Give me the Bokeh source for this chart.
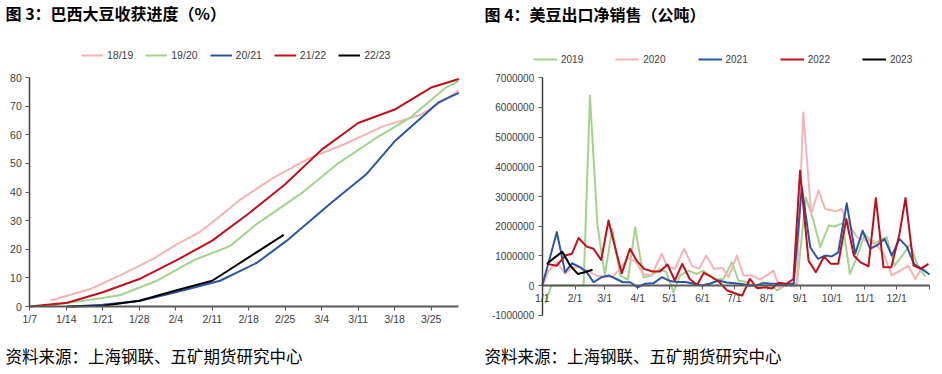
from bokeh.plotting import figure
from bokeh.models import Range1d, FixedTicker, Legend, LegendItem, Label
from bokeh.layouts import row
from bokeh.embed import file_html
from bokeh.resources import INLINE

# ---------------- Left chart: Brazil soybean harvest progress (%) ----------------
# x = days after 1/7
harvest_tick_days = [0, 7, 14, 21, 28, 35, 42, 49, 56, 63, 70, 77]
harvest_tick_labels = ["1/7", "1/14", "1/21", "1/28", "2/4", "2/11", "2/18",
                       "2/25", "3/4", "3/11", "3/18", "3/25"]
harvest_y_ticks = [0, 10, 20, 30, 40, 50, 60, 70, 80]

hv_days_1819 = [4, 11.6, 18, 24, 28, 32.6, 36.6, 40.4, 46.8, 53.5, 60.2, 67.9, 75, 79.3, 82.3]
hv_prog_1819 = [2.1, 6.1, 11.5, 17, 21.5, 26, 31.7, 37.4, 45, 51.7, 56.6, 63, 67, 71.9, 75.4]

hv_days_1920 = [4, 7, 14, 17.4, 24.4, 31.5, 38.5, 43.5, 52.3, 59.3, 66.3, 73, 79.7, 82.3]
hv_prog_1920 = [0.3, 1.2, 3, 4, 9, 16.2, 21.2, 28.8, 39.8, 50.2, 58.7, 66, 76.3, 78.8]

hv_days_2021 = [8, 14, 21, 28, 36.5, 43.5, 49.3, 57.5, 64.5, 70, 78.5, 82.3]
hv_prog_2021 = [0, 0.6, 1.9, 5, 9, 15.2, 23, 35.7, 46.1, 57.7, 71.4, 74.6]

hv_days_2122 = [0, 7.2, 14, 21, 28, 35, 42, 49, 56, 63, 70, 77, 82.3]
hv_prog_2122 = [0, 1.3, 5, 9.6, 16, 23, 32.5, 42.7, 54.8, 64.1, 68.8, 76.5, 79.5]

hv_days_2223 = [7, 14, 21, 28, 35, 48.7]
hv_prog_2223 = [0, 0.3, 2, 5.6, 9, 25]

harvest_names = ["18/19", "19/20", "20/21", "21/22", "22/23"]

# ---------------- Right chart: US soybean net export sales (t) ----------------
sales_tick_days = [0, 31, 59, 90, 120, 151, 181, 212, 243, 273, 304, 334, 365]
sales_tick_labels = ["1/1", "2/1", "3/1", "4/1", "5/1", "6/1", "7/1", "8/1",
                     "9/1", "10/1", "11/1", "12/1", ""]
sales_y_ticks = [-1000000, 0, 1000000, 2000000, 3000000, 4000000, 5000000, 6000000, 7000000]
sales_y_labels = ["-1000000", "0", "1000000", "2000000", "3000000", "4000000",
                  "5000000", "6000000", "7000000"]

days_2019 = [2.8, 8.8, 16, 24, 31, 39, 45, 52, 59, 66,
             73.5, 80.7, 87.6, 95.5, 103, 111, 117, 123.7, 130, 138,
             145.7, 152, 160, 166, 171, 178.7, 185, 193, 201, 207,
             214, 221.6, 228, 234, 240, 248.4, 255.7, 262, 270, 276,
             283, 290, 296.5, 304, 312, 318, 324.7, 332, 340.5, 347,
             353, 361]
sales_2019 = [-600000, 0, 0, 0, 0, 0, 6400000, 2080000, 340000, 1920000,
              340000, 200000, 1960000, 280000, 340000, 560000, 450000, -220000, 340000, 500000,
              390000, 500000, 280000, 200000, 230000, 780000, 170000, 110000, -60000, 110000,
              50000, -170000, 0, 0, 0, 2970000, 2190000, 1290000, 2020000, 1990000,
              2100000, 390000, 950000, 1740000, 1400000, 1520000, 1630000, 670000, 1070000, 1400000,
              730000, 300000]

days_2020 = [1, 6, 14, 21.6, 28, 35.5, 43, 51, 58.6, 66,
             73.5, 81, 88, 95.5, 103, 112.7, 117.4, 125, 133.8, 141,
             148, 154.6, 162, 169.8, 175.6, 183.4, 189.7, 197.6, 205.4, 212,
             218, 224, 232, 240, 246, 253.5, 260.4, 266.7, 276, 282,
             288.7, 296.5, 304, 312, 321.7, 329.5, 337.4, 345, 351.6, 359.4]
sales_2020 = [50000, 500000, 780000, 390000, 620000, 620000, 500000, 340000, 300000, 280000,
              560000, 950000, 800000, 390000, 340000, 1070000, 670000, 560000, 1240000, 670000,
              560000, 1010000, 560000, 600000, 280000, 1010000, 340000, 340000, 200000, 350000,
              500000, -110000, 60000, 60000, 5830000, 2410000, 3200000, 2580000, 2500000, 2580000,
              2080000, 1630000, 1520000, 1500000, 1070000, 340000, 500000, 670000, 220000, 670000]

days_2021 = [0, 7, 13.8, 21.6, 28, 35.5, 42, 48.4, 56, 62.5,
             70, 76, 83, 90, 97, 105, 112.7, 120.5, 127, 135,
             143, 150, 158, 166, 174, 181, 188, 195, 202, 209,
             216, 223, 230, 237, 244.7, 252.6, 259.8, 266.7, 273, 279,
             287, 295, 302, 309, 315.4, 322.6, 329.5, 336.7, 343.6, 350.6,
             357.8, 365]
sales_2021 = [0, 900000, 1800000, 450000, 750000, 620000, 450000, 110000, 280000, 340000,
              220000, 110000, 110000, -60000, 60000, 80000, 280000, 150000, 120000, 120000,
              60000, 0, 60000, 170000, 100000, 80000, 50000, 0, 10000, 80000,
              60000, 60000, 60000, 60000, 3310000, 1290000, 900000, 1010000, 980000, 1120000,
              2770000, 1070000, 1850000, 1240000, 1350000, 1570000, 1010000, 1570000, 1310000, 710000,
              560000, 370000]

days_2022 = [4.4, 13.8, 21.6, 28, 34.2, 42, 48.4, 55.6, 62.5, 69,
             75, 82.7, 89, 96, 104, 111, 118, 125, 132, 139,
             146, 152.3, 160, 167, 174.4, 181, 188.5, 195.7, 202.6, 210,
             216.5, 223, 230, 236.8, 243, 251, 257.9, 265.7, 272, 279,
             286.5, 293.7, 300, 307.5, 314.4, 321.6, 329, 336.7, 342.4, 350,
             357, 364]
sales_2022 = [730000, 670000, 1010000, 1070000, 1600000, 1310000, 1240000, 860000, 2190000, 1240000,
              410000, 1240000, 840000, 560000, 470000, 470000, 710000, 170000, 730000, 220000,
              20000, 430000, 280000, 110000, -170000, -250000, -340000, 220000, -90000, -60000,
              -100000, 90000, 50000, 220000, 3870000, 840000, 450000, 980000, 730000, 730000,
              2240000, 1010000, 780000, 650000, 2950000, 620000, 620000, 1740000, 2950000, 670000,
              560000, 730000]

days_2023 = [4.4, 12, 19, 26.4, 33.5, 40, 47.4]
sales_2023 = [730000, 950000, 1140000, 670000, 390000, 450000, 530000]

sales_names = ["2019", "2020", "2021", "2022", "2023"]

PINK = "#F4B4B6"
GREEN = "#A3D38A"
BLUE = "#2B55A5"
RED = "#C00F1C"
BLACK = "#000000"

CJK = "Noto Sans CJK SC"
LAT = "Liberation Sans"
TXT = "#404040"

H = 374


def make_fig(w, xr, yr):
    p = figure(width=w, height=H, title=None, x_range=Range1d(*xr), y_range=Range1d(*yr),
               min_border_left=0, min_border_right=0, min_border_top=0, min_border_bottom=0,
               output_backend="svg", toolbar_location=None)
    p.grid.visible = False
    p.outline_line_color = None
    for ax in (p.xaxis[0], p.yaxis[0]):
        ax.fixed_location = 0
        ax.major_label_text_font = LAT
        ax.major_label_text_color = TXT
        ax.minor_tick_line_color = None
        ax.major_tick_in = 0
        ax.major_tick_out = 4
        ax.major_tick_line_color = "#595959"
    p.yaxis[0].axis_line_color = "#404040"
    p.yaxis[0].axis_line_width = 1.5
    p.xaxis[0].axis_line_color = "#595959"
    p.xaxis[0].axis_line_width = 2
    return p


# ---------------- Left figure ----------------
# frame spans whole figure; axes drawn at data 0 with bounds
p1 = make_fig(470, (-5.621, 84.546), (-23.755, 106.90))
p1.xaxis.bounds = (0, 82.3)
p1.yaxis.bounds = (0, 80)
p1.xaxis.ticker = FixedTicker(ticks=harvest_tick_days)
p1.xaxis.major_label_overrides = {d: l for d, l in zip(harvest_tick_days, harvest_tick_labels)}
p1.yaxis.ticker = FixedTicker(ticks=harvest_y_ticks)
p1.xaxis.major_label_text_font_size = "10.5px"
p1.yaxis.major_label_text_font_size = "10.5px"
p1.xaxis.major_label_standoff = 2
p1.yaxis.major_label_standoff = 4

h_series = [(hv_days_1819, hv_prog_1819, PINK), (hv_days_1920, hv_prog_1920, GREEN),
            (hv_days_2021, hv_prog_2021, BLUE), (hv_days_2122, hv_prog_2122, RED),
            (hv_days_2223, hv_prog_2223, BLACK)]
h_items = []
for name, (xs, ys, c) in zip(harvest_names, h_series):
    r = p1.line(xs, ys, line_color=c, line_width=2, line_join="round")
    h_items.append(LegendItem(label=name, renderers=[r]))

leg1 = Legend(items=h_items, orientation="horizontal", location=(81, 311),
              label_text_font=LAT, label_text_font_size="10.5px", label_text_color=TXT,
              glyph_width=22, glyph_height=16, label_standoff=4, spacing=12,
              padding=2, margin=0, border_line_color=None, background_fill_alpha=0)
p1.add_layout(leg1)

p1.add_layout(Label(x=-4.662, y=102.36, text="图 3：巴西大豆收获进度（%）",
                    text_font=CJK, text_font_style="bold", text_font_size="16px",
                    text_color="#000000", text_baseline="middle"))
p1.add_layout(Label(x=-4.662, y=-17.12, text="资料来源：上海钢联、五矿期货研究中心",
                    text_font=CJK, text_font_size="16.5px",
                    text_color="#000000", text_baseline="middle"))

# ---------------- Right figure ----------------
p2 = make_fig(472, (-67.57, 377.25), (-2998300, 9604900))
p2.xaxis.bounds = (0, 365)
p2.yaxis.bounds = (-1000000, 7000000)
p2.xaxis.ticker = FixedTicker(ticks=sales_tick_days)
p2.xaxis.major_label_overrides = {d: l for d, l in zip(sales_tick_days, sales_tick_labels)}
p2.yaxis.ticker = FixedTicker(ticks=sales_y_ticks)
p2.yaxis.major_label_overrides = {v: l for v, l in zip(sales_y_ticks, sales_y_labels)}
p2.xaxis.major_label_text_font_size = "10.5px"
p2.yaxis.major_label_text_font_size = "10px"
p2.xaxis.major_label_standoff = 2
p2.yaxis.major_label_standoff = 4

s_series = [(days_2019, sales_2019, GREEN), (days_2020, sales_2020, PINK),
            (days_2021, sales_2021, BLUE), (days_2022, sales_2022, RED),
            (days_2023, sales_2023, BLACK)]
s_items = []
for name, (xs, ys, c) in zip(sales_names, s_series):
    r = p2.line(xs, ys, line_color=c, line_width=2, line_join="round")
    s_items.append(LegendItem(label=name, renderers=[r]))

leg2 = Legend(items=s_items, orientation="horizontal", location=(63, 307),
              label_text_font=LAT, label_text_font_size="10px", label_text_color=TXT,
              glyph_width=24, glyph_height=16, label_standoff=4, spacing=32,
              padding=2, margin=0, border_line_color=None, background_fill_alpha=0)
p2.add_layout(leg2)

p2.add_layout(Label(x=-54.38, y=9166800, text="图 4：美豆出口净销售（公吨）",
                    text_font=CJK, text_font_style="bold", text_font_size="16px",
                    text_color="#000000", text_baseline="middle"))
p2.add_layout(Label(x=-54.38, y=-2358100, text="资料来源：上海钢联、五矿期货研究中心",
                    text_font=CJK, text_font_size="16.5px",
                    text_color="#000000", text_baseline="middle"))

layout = row(p1, p2)
open("out.html", "w").write(file_html(layout, INLINE))
